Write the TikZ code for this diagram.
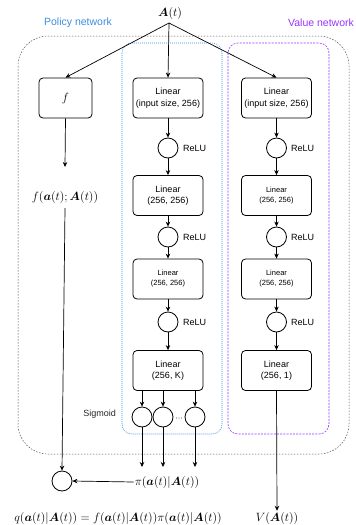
\documentclass[tikz,border=0pt]{standalone}
\usepackage{fontspec}
\setsansfont{Liberation Sans}
\usepackage{amsmath,bm}
\usetikzlibrary{arrows.meta}
\definecolor{polblue}{HTML}{3C8CE0}
\definecolor{valpurple}{HTML}{9933FF}
\tikzset{
  lin/.style={draw, rounded corners=4pt, minimum width=70pt, minimum height=40pt, line width=0.8pt, align=center, font=\sffamily\fontsize{9}{11.5}\selectfont, inner sep=1pt},
  linsmall/.style={lin, font=\sffamily\fontsize{7.5}{10}\selectfont},
  act/.style={draw, circle, minimum size=20pt, inner sep=0pt, line width=0.8pt},
  lbl/.style={font=\sffamily\fontsize{9}{10}\selectfont, anchor=west, inner sep=0pt},
  arr/.style={-{Stealth[length=5pt,width=4.5pt]}, line width=0.7pt},
  mth/.style={font=\fontsize{12}{14}\selectfont, inner sep=1pt},
  dotmark/.style={circle, fill=black!55, inner sep=0pt, minimum size=1.3pt},
}
\begin{document}
\begin{tikzpicture}[x=1pt,y=-1pt]
\useasboundingbox (0,0) rectangle (356,525);
% frames
\draw[black!70, dash pattern=on 1.5pt off 1.5pt, line width=0.5pt, rounded corners=30pt] (18,36) rectangle (349,454);
\draw[polblue, dash pattern=on 1pt off 1pt, line width=0.6pt, rounded corners=10pt] (122,43) rectangle (222,434);
\draw[valpurple, dash pattern=on 2pt off 1.2pt, line width=0.6pt, rounded corners=10pt] (228,43) rectangle (329,434);
\node[font=\sffamily\fontsize{10.5}{12}\selectfont, text=polblue] (pn) at (78,23) {Policy network};
\node[font=\sffamily\fontsize{10.5}{12}\selectfont, text=valpurple] (vn) at (321,23) {Value network};
% input
\node[mth, font=\fontsize{13}{15}\selectfont] (A) at (170,13) {$\bm{A}(t)$};
% f branch
\node[lin, minimum width=53pt] (f) at (65.5,98) {\normalfont\fontsize{12}{14}\selectfont$f$};
\node[mth, font=\fontsize{11.5}{14}\selectfont] (fa) at (65,197) {$f(\bm{a}(t);\bm{A}(t))$};
\coordinate (fend) at (65,167);
\node[act] (mult) at (62,481) {};
% policy column
\node[lin] (p1) at (168,98) {Linear\\(input size, 256)};
\node[act] (pr1) at (168,148) {};
\node[lbl] at (183,148) {ReLU};
\node[lin] (p2) at (168,195.5) {Linear\\(256, 256)};
\node[act] (pr2) at (168,237) {};
\node[lbl] at (183,237) {ReLU};
\node[linsmall] (p3) at (168,279) {Linear\\(256, 256)};
\node[act] (pr3) at (168,322) {};
\node[lbl] at (183,322) {ReLU};
\node[lin] (p4) at (168,370.5) {Linear\\(256, K)};
\node[act] (s1) at (142,417) {};
\node[act] (s2) at (163,417) {};
\node[act] (s3) at (195,417) {};
\node[dotmark] (d1) at (176.5,418) {};
\node[dotmark] (d2) at (179,418) {};
\node[dotmark] (d3) at (181.5,418) {};
\node[lbl, anchor=east, text=black!85] (sig) at (116,414) {Sigmoid};
\coordinate (e1) at (142,467);
\coordinate (e2) at (163,467);
\coordinate (e3) at (195,467);
\node[mth] (pi) at (167,482) {$\pi(\bm{a}(t)|\bm{A}(t))$};
% value column
\node[lin] (v1) at (276.5,98) {Linear\\(input size, 256)};
\node[act] (vr1) at (276.5,148) {};
\node[lbl] at (291,148) {ReLU};
\node[linsmall] (v2) at (276.5,195.5) {Linear\\(256, 256)};
\node[act] (vr2) at (276.5,237) {};
\node[lbl] at (291,237) {ReLU};
\node[linsmall] (v3) at (276.5,279) {Linear\\(256, 256)};
\node[act] (vr3) at (276.5,322) {};
\node[lbl] at (291,322) {ReLU};
\node[lin] (v4) at (276.5,370.5) {Linear\\(256, 1)};
\node[mth] (V) at (277,518) {$V(\bm{A}(t))$};
\node[mth] (q) at (118,518) {$q(\bm{a}(t)|\bm{A}(t)) = f(\bm{a}(t)|\bm{A}(t))\pi(\bm{a}(t)|\bm{A}(t))$};
% arrows
\coordinate (As) at (169,23);
\draw[arr] (As) -- (f.north);
\draw[arr] (As) -- (p1.north);
\draw[arr] (As) -- (v1.north);
\draw[arr] (f.south) -- (fend);
\draw[arr] (fa.south) ++(0,4) -- (mult.north);
\draw[arr] (p1) -- (pr1);
\draw[arr] (pr1) -- (p2);
\draw[arr] (p2) -- (pr2);
\draw[arr] (pr2) -- (p3);
\draw[arr] (p3) -- (pr3);
\draw[arr] (pr3) -- (p4);
\draw[arr] (p4.south -| s1) -- (s1.north);
\draw[arr] (p4.south -| s2) -- (s2.north);
\draw[arr] (p4.south -| s3) -- (s3.north);
\draw[arr] (s1.south) -- (e1);
\draw[arr] (s2.south) -- (e2);
\draw[arr] (s3.south) -- (e3);
\draw[arr] (pi.west) -- (mult.east);
\draw[arr] (v1) -- (vr1);
\draw[arr] (vr1) -- (v2);
\draw[arr] (v2) -- (vr2);
\draw[arr] (vr2) -- (v3);
\draw[arr] (v3) -- (vr3);
\draw[arr] (vr3) -- (v4);
\draw[arr] (v4.south) -- (V.north);
\end{tikzpicture}
\end{document}
